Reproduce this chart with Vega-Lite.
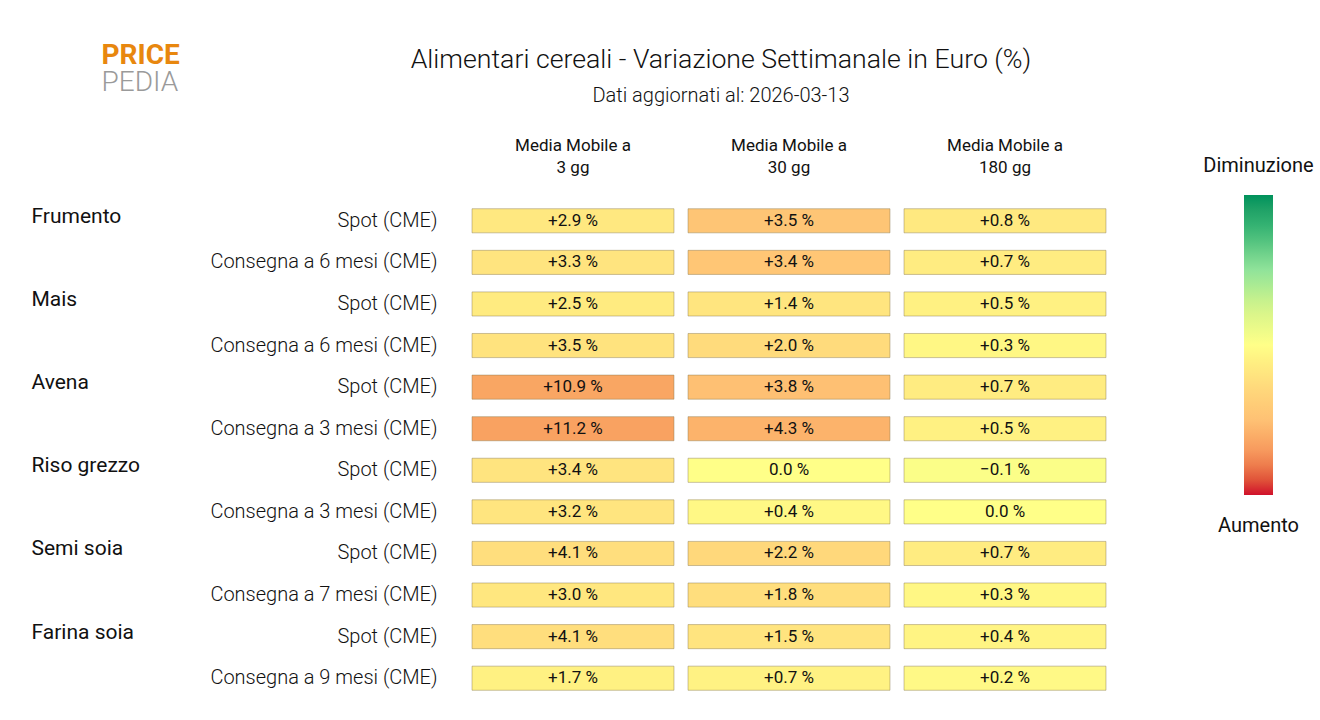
{
  "$schema": "https://vega.github.io/schema/vega-lite/v6.json",
  "autosize": {"type": "none"},
  "padding": {"left": 465, "top": 200, "right": 207, "bottom": 21},
  "width": 648,
  "height": 499,
  "background": "white",
  "config": {"view": {"stroke": null}},
  "title": {
    "text": "Alimentari cereali - Variazione Settimanale in Euro (%)",
    "subtitle": "Dati aggiornati al: 2026-03-13",
    "anchor": "middle",
    "frame": "group",
    "dx": -68,
    "offset": -65,
    "font": "Roboto",
    "fontSize": 26.7,
    "fontWeight": 300,
    "color": "#111111",
    "subtitleFont": "Roboto",
    "subtitleFontSize": 20,
    "subtitleFontWeight": 300,
    "subtitleColor": "#111111",
    "subtitlePadding": 12
  },
  "data": {
    "values": [
      {"g": "Frumento", "s": "Spot (CME)", "c": "Media Mobile a|3 gg", "v": 2.9},
      {"g": "Frumento", "s": "Spot (CME)", "c": "Media Mobile a|30 gg", "v": 3.5},
      {"g": "Frumento", "s": "Spot (CME)", "c": "Media Mobile a|180 gg", "v": 0.8},
      {"g": "Frumento", "s": "Consegna a 6 mesi (CME)", "c": "Media Mobile a|3 gg", "v": 3.3},
      {"g": "Frumento", "s": "Consegna a 6 mesi (CME)", "c": "Media Mobile a|30 gg", "v": 3.4},
      {"g": "Frumento", "s": "Consegna a 6 mesi (CME)", "c": "Media Mobile a|180 gg", "v": 0.7},
      {"g": "Mais", "s": "Spot (CME)", "c": "Media Mobile a|3 gg", "v": 2.5},
      {"g": "Mais", "s": "Spot (CME)", "c": "Media Mobile a|30 gg", "v": 1.4},
      {"g": "Mais", "s": "Spot (CME)", "c": "Media Mobile a|180 gg", "v": 0.5},
      {"g": "Mais", "s": "Consegna a 6 mesi (CME)", "c": "Media Mobile a|3 gg", "v": 3.5},
      {"g": "Mais", "s": "Consegna a 6 mesi (CME)", "c": "Media Mobile a|30 gg", "v": 2.0},
      {"g": "Mais", "s": "Consegna a 6 mesi (CME)", "c": "Media Mobile a|180 gg", "v": 0.3},
      {"g": "Avena", "s": "Spot (CME)", "c": "Media Mobile a|3 gg", "v": 10.9},
      {"g": "Avena", "s": "Spot (CME)", "c": "Media Mobile a|30 gg", "v": 3.8},
      {"g": "Avena", "s": "Spot (CME)", "c": "Media Mobile a|180 gg", "v": 0.7},
      {"g": "Avena", "s": "Consegna a 3 mesi (CME)", "c": "Media Mobile a|3 gg", "v": 11.2},
      {"g": "Avena", "s": "Consegna a 3 mesi (CME)", "c": "Media Mobile a|30 gg", "v": 4.3},
      {"g": "Avena", "s": "Consegna a 3 mesi (CME)", "c": "Media Mobile a|180 gg", "v": 0.5},
      {"g": "Riso grezzo", "s": "Spot (CME)", "c": "Media Mobile a|3 gg", "v": 3.4},
      {"g": "Riso grezzo", "s": "Spot (CME)", "c": "Media Mobile a|30 gg", "v": 0.0},
      {"g": "Riso grezzo", "s": "Spot (CME)", "c": "Media Mobile a|180 gg", "v": -0.1},
      {"g": "Riso grezzo", "s": "Consegna a 3 mesi (CME)", "c": "Media Mobile a|3 gg", "v": 3.2},
      {"g": "Riso grezzo", "s": "Consegna a 3 mesi (CME)", "c": "Media Mobile a|30 gg", "v": 0.4},
      {"g": "Riso grezzo", "s": "Consegna a 3 mesi (CME)", "c": "Media Mobile a|180 gg", "v": 0.0},
      {"g": "Semi soia", "s": "Spot (CME)", "c": "Media Mobile a|3 gg", "v": 4.1},
      {"g": "Semi soia", "s": "Spot (CME)", "c": "Media Mobile a|30 gg", "v": 2.2},
      {"g": "Semi soia", "s": "Spot (CME)", "c": "Media Mobile a|180 gg", "v": 0.7},
      {"g": "Semi soia", "s": "Consegna a 7 mesi (CME)", "c": "Media Mobile a|3 gg", "v": 3.0},
      {"g": "Semi soia", "s": "Consegna a 7 mesi (CME)", "c": "Media Mobile a|30 gg", "v": 1.8},
      {"g": "Semi soia", "s": "Consegna a 7 mesi (CME)", "c": "Media Mobile a|180 gg", "v": 0.3},
      {"g": "Farina soia", "s": "Spot (CME)", "c": "Media Mobile a|3 gg", "v": 4.1},
      {"g": "Farina soia", "s": "Spot (CME)", "c": "Media Mobile a|30 gg", "v": 1.5},
      {"g": "Farina soia", "s": "Spot (CME)", "c": "Media Mobile a|180 gg", "v": 0.4},
      {"g": "Farina soia", "s": "Consegna a 9 mesi (CME)", "c": "Media Mobile a|3 gg", "v": 1.7},
      {"g": "Farina soia", "s": "Consegna a 9 mesi (CME)", "c": "Media Mobile a|30 gg", "v": 0.7},
      {"g": "Farina soia", "s": "Consegna a 9 mesi (CME)", "c": "Media Mobile a|180 gg", "v": 0.2}
    ]
  },
  "transform": [
    {"calculate": "datum.g + '|' + datum.s", "as": "row"},
    {"calculate": "-datum.v / (datum.c == 'Media Mobile a|3 gg' ? 17 : datum.c == 'Media Mobile a|30 gg' ? 7.5 : 5)", "as": "n"},
    {"calculate": "(datum.v > 0 ? '+' : '') + format(datum.v, '.1f') + ' %'", "as": "t"}
  ],
  "encoding": {
    "x": {
      "field": "c", "type": "nominal", "sort": null,
      "scale": {"paddingInner": 0.065, "paddingOuter": 0.0325},
      "axis": {
        "orient": "top", "title": null, "domain": false, "ticks": false, "tickSize": 0,
        "labelExpr": "split(datum.label, '|')", "labelAngle": 0,
        "labelFont": "Roboto", "labelFontSize": 17, "labelColor": "#111111",
        "labelLineHeight": 22, "labelPadding": 46, "labelBaseline": "bottom"
      }
    }
  },
  "layer": [
    {
      "mark": {"type": "rect", "stroke": "#8a7a50", "strokeOpacity": 0.45, "strokeWidth": 1},
      "encoding": {
        "y": {
          "field": "row", "type": "nominal", "sort": null,
          "scale": {"paddingInner": 0.42, "paddingOuter": 0.21},
          "axis": {
            "orient": "left", "domain": false, "ticks": false, "tickSize": 0,
            "labelExpr": "split(datum.label, '|')[1]",
            "labelFont": "Roboto", "labelFontSize": 20, "labelFontWeight": 300, "labelColor": "#111111",
            "labelPadding": 28, "labelLimit": 400,
            "title": "PRICE", "titleAngle": 0, "titleAlign": "left", "titleBaseline": "alphabetic",
            "titleX": -364, "titleY": -137, "titleFont": "Roboto", "titleFontSize": 28,
            "titleFontWeight": 700, "titleColor": "#e8870e"
          }
        },
        "color": {
          "field": "n", "type": "quantitative",
          "scale": {
            "domain": [-1, -0.75, -0.5, -0.25, 0, 0.25, 0.5, 0.75, 1],
            "range": ["#d0112b", "#f5905a", "#fec174", "#ffdd7d", "#ffff88", "#d4f48b", "#90e39a", "#3dba78", "#00925c"],
            "clamp": true
          },
          "legend": {
            "type": "gradient", "direction": "vertical", "orient": "none",
            "legendX": 779, "legendY": -5, "padding": 0,
            "gradientLength": 300, "gradientThickness": 29, "gradientStrokeWidth": 0,
            "title": null, "values": [-1, 1],
            "labelExpr": "datum.value > 0 ? 'Diminuzione' : 'Aumento'",
            "labelFont": "Roboto", "labelFontSize": 20, "labelColor": "#111111",
            "labelAlign": "center", "labelOffset": -14.5, "labelOverlap": false,
            "encode": {
              "labels": {
                "update": {
                  "align": {"value": "center"},
                  "baseline": {"value": "middle"},
                  "dy": {"signal": "datum.value > 0 ? -29 : 31"}
                }
              }
            }
          }
        }
      }
    },
    {
      "mark": {"type": "text", "font": "Roboto", "fontSize": 17, "color": "#111111"},
      "encoding": {
        "y": {
          "field": "row", "type": "nominal", "sort": null,
          "axis": {
            "orient": "left", "domain": false, "ticks": false, "tickSize": 0,
            "labelExpr": "split(datum.label, '|')[1] == 'Spot (CME)' ? split(datum.label, '|')[0] : ''",
            "labelFont": "Roboto", "labelFontSize": 21, "labelFontWeight": 400, "labelColor": "#111111",
            "labelAlign": "left", "labelPadding": 434, "labelOffset": -4, "labelLimit": 400,
            "title": "PEDIA", "titleAngle": 0, "titleAlign": "left", "titleBaseline": "alphabetic",
            "titleX": -364, "titleY": -110, "titleFont": "Roboto", "titleFontSize": 28,
            "titleFontWeight": 300, "titleColor": "#9a9a9a"
          }
        },
        "text": {"field": "t"}
      }
    }
  ],
  "resolve": {"axis": {"y": "independent"}}
}
